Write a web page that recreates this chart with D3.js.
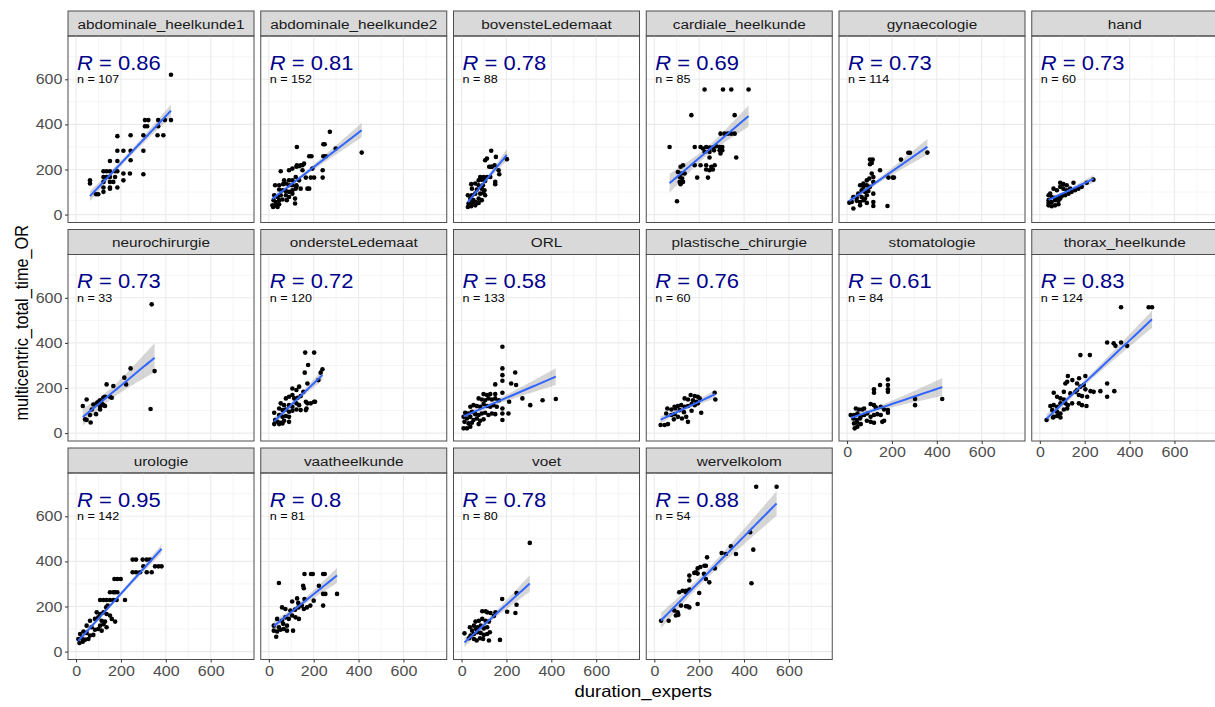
<!DOCTYPE html>
<html>
<head>
<meta charset="utf-8">
<script src="https://cdn.jsdelivr.net/npm/d3@7"></script>
<style>
  body { margin: 0; background: #fff; }
  text { font-family: "Liberation Sans", Arial, sans-serif; }
</style>
</head>
<body>
<svg id="chart" width="1215" height="707"></svg>
<script>
// Facet names, correlation labels and sample sizes
const categories = [
  "abdominale_heelkunde1", "abdominale_heelkunde2", "bovensteLedemaat", "cardiale_heelkunde",
  "gynaecologie", "hand", "neurochirurgie", "ondersteLedemaat", "ORL", "plastische_chirurgie",
  "stomatologie", "thorax_heelkunde", "urologie", "vaatheelkunde", "voet", "wervelkolom"
];
const rLabels = ["0.86", "0.81", "0.78", "0.69", "0.73", "0.73", "0.73", "0.72",
  "0.58", "0.76", "0.61", "0.83", "0.95", "0.8", "0.78", "0.88"];
const nLabels = [107, 152, 88, 85, 114, 60, 33, 120, 133, 60, 84, 124, 142, 81, 80, 54];
const tickValues = [0, 200, 400, 600];
const minorValues = [100, 300, 500, 700];

// Points: [duration_experts, multicentric_total_time_OR]
const abdominale1 = [[423,620],[307,419],[322,419],[307,392],[317,392],[366,419],[396,419],[423,419],
  [366,392],[363,352],[389,352],[300,352],[243,352],[184,348],[300,283],[184,283],[211,283],[243,283],
  [151,238],[184,238],[243,241],[122,192],[136,192],[151,192],[174,192],[184,192],[211,182],[240,182],
  [300,179],[122,167],[136,167],[151,167],[174,167],[122,145],[151,145],[166,145],[211,152],[62,152],
  [62,138],[122,120],[151,120],[184,120],[122,101],[151,115],[89,90],[99,90]];
const abdominale2 = [[414,275],[272,367],[243,312],[249,312],[243,259],[254,259],[298,293],[125,300],
  [180,259],[190,259],[125,219],[142,219],[157,226],[53,192],[90,197],[105,204],[123,212],[135,215],
  [150,219],[165,164],[187,164],[202,164],[240,197],[240,164],[68,152],[90,152],[105,152],[120,167],
  [135,152],[28,130],[46,130],[64,135],[76,138],[90,130],[105,130],[123,123],[142,115],[172,115],
  [180,115],[46,111],[61,108],[76,105],[90,101],[105,108],[120,115],[24,86],[39,78],[53,86],[76,86],
  [90,78],[105,93],[117,71],[21,64],[31,56],[46,64],[61,67],[80,64],[16,41],[31,41],[46,46],[117,49],
  [19,34],[39,34],[123,130],[150,197],[194,204]];
const bovenste = [[132,283],[113,249],[105,241],[153,256],[202,246],[123,212],[135,212],[147,219],
  [165,197],[168,179],[83,167],[98,167],[113,167],[128,167],[76,152],[90,155],[105,149],[150,145],
  [150,135],[43,135],[61,138],[76,130],[95,130],[46,115],[68,111],[90,115],[102,108],[61,93],[83,93],
  [98,96],[105,86],[28,86],[46,86],[39,71],[53,64],[76,71],[90,64],[31,49],[46,52],[64,56],[76,52],
  [28,34],[43,37],[61,41],[132,212]];
const cardiale = [[224,555],[306,555],[343,555],[420,555],[165,441],[358,441],[68,300],[295,359],
  [313,359],[328,359],[343,359],[358,359],[180,300],[206,300],[217,293],[231,300],[246,297],[261,297],
  [276,303],[291,300],[303,300],[224,278],[246,278],[266,285],[291,285],[303,285],[246,253],[365,253],
  [128,219],[117,212],[180,219],[206,219],[231,219],[254,212],[269,219],[231,200],[246,197],[261,200],
  [105,189],[120,182],[135,182],[113,167],[124,160],[191,164],[239,164],[113,145],[128,145],[117,135],
  [101,59],[295,271]];
const gynaecologie = [[358,275],[273,274],[280,274],[240,244],[102,244],[114,244],[110,229],[102,223],
  [147,197],[203,164],[184,164],[209,164],[110,182],[117,167],[99,160],[88,152],[117,145],[73,138],
  [58,130],[88,130],[73,123],[102,123],[65,108],[80,101],[95,105],[50,93],[117,93],[28,78],[43,75],
  [65,78],[80,71],[10,53],[21,56],[43,61],[58,56],[88,52],[117,56],[28,27],[58,41],[117,38],[180,38],
  [73,64],[88,86]];
const hand = [[239,155],[209,141],[150,141],[91,141],[105,135],[120,130],[46,93],[39,86],[61,115],
  [76,108],[91,123],[105,115],[120,108],[135,115],[53,78],[68,75],[83,78],[98,82],[113,86],[128,93],
  [142,101],[157,108],[39,64],[53,56],[68,64],[83,61],[39,41],[53,37],[68,41],[83,46],[39,52],[91,71],
  [172,115],[187,123]];
const neurochirurgie = [[337,571],[332,107],[350,275],[243,287],[215,246],[223,216],[136,216],[166,209],
  [107,146],[122,158],[129,161],[151,161],[159,157],[77,127],[92,132],[114,132],[107,117],[122,124],
  [129,120],[47,149],[30,120],[70,105],[89,84],[107,105],[62,80],[40,61],[47,58],[65,47],[99,139]];
const onderste = [[162,357],[202,357],[175,302],[160,268],[239,283],[231,268],[221,235],[172,220],
  [135,206],[105,198],[123,191],[154,183],[76,154],[90,161],[105,169],[113,154],[128,157],[142,164],
  [165,139],[172,132],[187,132],[202,139],[206,139],[168,109],[165,102],[53,132],[68,124],[90,124],
  [105,117],[123,132],[135,124],[46,109],[61,102],[76,105],[90,95],[105,99],[123,105],[142,102],
  [24,90],[46,80],[61,72],[76,76],[90,72],[28,58],[39,50],[53,46],[68,55],[90,50],[24,40],[46,40],[61,43]];
const orl = [[182,383],[182,287],[239,269],[182,257],[182,232],[150,216],[221,220],[243,213],[182,179],
  [98,173],[113,169],[128,173],[150,173],[271,154],[212,139],[306,124],[361,146],[420,151],[76,154],
  [90,149],[105,146],[120,154],[135,149],[150,154],[166,146],[39,117],[53,124],[68,120],[83,117],
  [98,129],[113,120],[128,117],[142,124],[157,117],[182,109],[182,87],[209,87],[182,58],[16,90],[31,87],
  [46,95],[61,84],[76,80],[90,87],[105,90],[120,80],[135,87],[150,84],[9,72],[24,65],[39,72],[53,58],
  [68,65],[83,55],[98,61],[13,50],[31,43],[46,46],[76,40],[9,21],[24,21],[39,28]];
const plastische = [[269,179],[272,149],[162,169],[180,164],[194,161],[202,154],[135,154],[150,149],
  [172,146],[187,139],[90,117],[105,120],[120,124],[135,117],[150,120],[166,129],[180,124],[194,132],
  [58,109],[76,105],[93,109],[113,102],[132,93],[166,99],[209,90],[53,87],[76,80],[90,84],[105,72],
  [123,65],[142,72],[87,61],[150,50],[28,36],[46,36],[61,40]];
const stomatologie = [[147,213],[182,238],[182,213],[182,194],[182,183],[120,194],[120,179],[424,151],
  [303,151],[303,124],[105,129],[120,124],[128,114],[150,117],[165,105],[182,102],[182,90],[39,109],
  [53,105],[68,105],[76,109],[16,80],[31,80],[46,87],[61,75],[76,80],[90,87],[105,72],[120,80],[135,84],
  [150,80],[28,65],[43,58],[58,65],[88,55],[105,50],[120,46],[157,50],[165,55],[31,43],[46,46],[61,40],
  [34,21],[46,28]];
const thorax = [[362,558],[485,558],[500,558],[300,402],[329,398],[337,387],[362,402],[389,387],
  [181,346],[223,346],[125,253],[122,228],[114,220],[145,235],[175,243],[203,253],[166,220],[181,206],
  [196,213],[203,194],[300,220],[300,161],[332,186],[240,183],[270,186],[107,183],[136,176],[159,183],
  [174,169],[188,164],[211,161],[226,186],[62,179],[77,161],[92,154],[107,149],[47,120],[62,124],
  [77,117],[92,132],[114,132],[125,124],[144,132],[174,132],[188,124],[208,120],[55,102],[77,95],
  [92,87],[107,105],[122,109],[62,72],[77,76],[92,69],[30,58],[59,69],[82,80],[166,191]];
const urologie = [[252,408],[267,408],[297,408],[315,408],[329,408],[252,352],[267,352],[285,352],
  [315,352],[337,352],[352,378],[367,378],[381,378],[300,378],[171,322],[184,322],[199,322],[151,263],
  [166,263],[174,263],[184,263],[107,229],[122,229],[136,229],[151,229],[166,229],[181,229],[218,229],
  [134,196],[141,204],[92,174],[107,167],[122,174],[136,167],[151,160],[174,133],[159,145],[62,137],
  [84,145],[99,152],[114,137],[129,133],[47,115],[69,108],[84,97],[99,100],[114,93],[136,108],[18,78],
  [33,89],[47,83],[62,71],[77,74],[10,56],[25,59],[40,53],[55,56],[15,38],[30,44],[107,115],[122,121]];
const vaatheelkunde = [[45,304],[159,344],[188,344],[196,344],[242,344],[249,344],[153,292],[156,281],
  [223,292],[104,222],[126,236],[131,216],[159,233],[242,256],[252,256],[304,256],[242,204],[200,226],
  [59,196],[74,189],[96,182],[117,186],[132,196],[147,204],[156,189],[170,196],[185,204],[37,145],
  [59,137],[74,152],[89,145],[104,160],[119,152],[134,145],[22,115],[45,108],[64,123],[81,115],[108,93],
  [22,93],[37,89],[52,97],[67,100],[81,93],[33,66]];
const voet = [[304,482],[245,260],[181,233],[203,177],[245,208],[240,171],[92,179],[107,179],[114,174],
  [129,171],[151,174],[144,158],[62,133],[77,137],[92,145],[107,137],[122,133],[37,108],[55,115],
  [70,108],[85,115],[99,103],[114,108],[13,81],[40,71],[55,78],[70,86],[85,83],[99,74],[114,78],
  [126,86],[33,59],[55,56],[67,49],[82,59],[96,56],[122,49],[171,52],[47,93],[65,100]];
const wervelkolom = [[454,731],[545,731],[427,529],[441,452],[433,303],[341,467],[364,433],[319,433],
  [300,437],[270,369],[235,418],[230,381],[223,381],[205,375],[193,369],[186,352],[193,346],[178,349],
  [156,337],[156,315],[221,345],[230,322],[245,307],[111,263],[126,270],[141,270],[156,275],[200,260],
  [119,204],[141,201],[156,196],[193,211],[89,182],[104,174],[96,160],[107,163],[148,201],[30,137],
  [64,137],[141,263]];

const panelPoints = [abdominale1, abdominale2, bovenste, cardiale, gynaecologie, hand,
  neurochirurgie, onderste, orl, plastische, stomatologie, thorax, urologie, vaatheelkunde, voet, wervelkolom];

// Layout
const LEFT = 68, COL_STEP = 192.75, PW = 186;
const TOP = 11, ROW_STEP = 218.5, STRIP_H = 25, PH = 186.5;
const NCOL = 6;
const SX = 1.12; // the picture's text is a little wider than tall

const svg = d3.select("#chart");

const xScale = d3.scaleLinear().domain([-36, 793]).range([0, PW]);
const yScale = d3.scaleLinear().domain([-35, 792]).range([PH, 0]);

// text placed at (x,y), stretched horizontally
function label(parent, x, y, size, fill, anchor) {
  return parent.append("text")
    .attr("transform", `translate(${x},${y}) scale(${SX},1)`)
    .attr("font-size", size).attr("fill", fill)
    .attr("text-anchor", anchor || "start");
}

// Linear fit with 95% confidence band (n taken from the label)
function fitLine(pts, nTotal) {
  const nS = pts.length;
  const mx = d3.mean(pts, (d) => d[0]);
  const my = d3.mean(pts, (d) => d[1]);
  const sxx = d3.sum(pts, (d) => (d[0] - mx) ** 2);
  const sxy = d3.sum(pts, (d) => (d[0] - mx) * (d[1] - my));
  const b = sxy / sxx;
  const a = my - b * mx;
  const s = Math.sqrt(d3.sum(pts, (d) => (d[1] - a - b * d[0]) ** 2) / (nS - 2));
  const sxxN = sxx * nTotal / nS;
  const [x0, x1] = d3.extent(pts, (d) => d[0]);
  return d3.range(0, 81).map((i) => {
    const x = x0 + (x1 - x0) * i / 80;
    const yhat = a + b * x;
    const se = s * Math.sqrt(1 / nTotal + (x - mx) ** 2 / sxxN);
    return { x, y: yhat, lo: yhat - 1.98 * se, hi: yhat + 1.98 * se };
  });
}

categories.forEach((name, i) => {
  const col = i % NCOL;
  const row = Math.floor(i / NCOL);
  const px = LEFT + col * COL_STEP;
  const sy = TOP + row * ROW_STEP;
  const py = sy + STRIP_H;

  // strip
  svg.append("rect")
    .attr("x", px).attr("y", sy).attr("width", PW).attr("height", STRIP_H)
    .attr("fill", "#D9D9D9").attr("stroke", "#4d4d4d").attr("stroke-width", 1);
  label(svg, px + PW / 2, sy + STRIP_H / 2 + 5, 13.7, "#1A1A1A", "middle").text(name);

  const g = svg.append("g").attr("transform", `translate(${px},${py})`);
  g.append("clipPath").attr("id", "clip" + i)
    .append("rect").attr("width", PW).attr("height", PH);

  const inner = g.append("g").attr("clip-path", `url(#clip${i})`);

  // grid
  inner.selectAll(".minx").data(minorValues).join("line")
    .attr("x1", (d) => xScale(d)).attr("x2", (d) => xScale(d))
    .attr("y1", 0).attr("y2", PH).attr("stroke", "#F2F2F2").attr("stroke-width", 0.8);
  inner.selectAll(".miny").data(minorValues).join("line")
    .attr("y1", (d) => yScale(d)).attr("y2", (d) => yScale(d))
    .attr("x1", 0).attr("x2", PW).attr("stroke", "#F2F2F2").attr("stroke-width", 0.8);
  inner.selectAll(".majx").data(tickValues).join("line")
    .attr("x1", (d) => xScale(d)).attr("x2", (d) => xScale(d))
    .attr("y1", 0).attr("y2", PH).attr("stroke", "#EBEBEB").attr("stroke-width", 1.1);
  inner.selectAll(".majy").data(tickValues).join("line")
    .attr("y1", (d) => yScale(d)).attr("y2", (d) => yScale(d))
    .attr("x1", 0).attr("x2", PW).attr("stroke", "#EBEBEB").attr("stroke-width", 1.1);

  const pts = panelPoints[i];
  const fit = fitLine(pts, nLabels[i]);

  inner.append("path").datum(fit)
    .attr("d", d3.area().x((d) => xScale(d.x)).y0((d) => yScale(d.lo)).y1((d) => yScale(d.hi)))
    .attr("fill", "#999999").attr("fill-opacity", 0.4);

  inner.selectAll(".pt").data(pts).join("circle")
    .attr("cx", (d) => xScale(d[0])).attr("cy", (d) => yScale(d[1]))
    .attr("r", 2.3).attr("fill", "#000");

  inner.append("path").datum(fit)
    .attr("d", d3.line().x((d) => xScale(d.x)).y((d) => yScale(d.y)))
    .attr("fill", "none").attr("stroke", "#3366FF").attr("stroke-width", 2);

  // labels
  const rText = label(g, xScale(0) + 1, 33.5, 19.6, "#00008B");
  rText.append("tspan").attr("font-style", "italic").text("R");
  rText.append("tspan").text(" = " + rLabels[i]);
  label(g, xScale(0) + 1, 47, 11.2, "#000").text("n = " + nLabels[i]);

  // border
  g.append("rect").attr("width", PW).attr("height", PH)
    .attr("fill", "none").attr("stroke", "#4d4d4d").attr("stroke-width", 1);

  // axes
  if (col === 0) {
    const ya = g.append("g").call(d3.axisLeft(yScale).tickValues(tickValues).tickSize(3).tickPadding(2));
    ya.select(".domain").remove();
    ya.selectAll("line").attr("stroke", "#333");
    ya.selectAll("text").attr("font-size", 14.3).attr("fill", "#4D4D4D")
      .attr("font-family", '"Liberation Sans", Arial, sans-serif')
      .attr("transform", `scale(${SX},1)`);
  }
  const lastRow = i + NCOL >= categories.length;
  if (lastRow) {
    const xa = g.append("g").attr("transform", `translate(0,${PH})`)
      .call(d3.axisBottom(xScale).tickValues(tickValues).tickSize(3).tickPadding(3));
    xa.select(".domain").remove();
    xa.selectAll("line").attr("stroke", "#333");
    xa.selectAll("text").attr("font-size", 14.3).attr("fill", "#4D4D4D")
      .attr("font-family", '"Liberation Sans", Arial, sans-serif')
      .attr("transform", `scale(${SX},1)`);
  }
});

// axis titles
label(svg, LEFT + (NCOL * COL_STEP) / 2 - 3, 697, 16.5, "#000", "middle").text("duration_experts");
svg.append("text")
  .attr("transform", `translate(28,${TOP + (3 * ROW_STEP - 32) / 2}) scale(${SX},1) rotate(-90)`)
  .attr("text-anchor", "middle").attr("font-size", 16.3).attr("fill", "#000")
  .text("multicentric_total_time_OR");
</script>
</body>
</html>
